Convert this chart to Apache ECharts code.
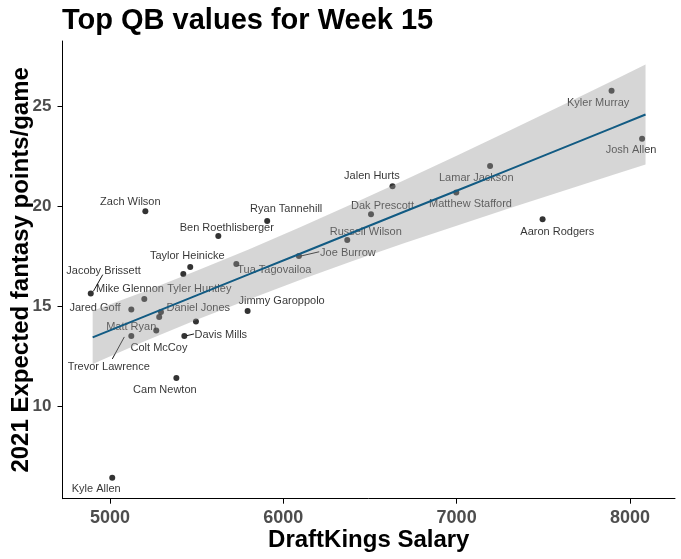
<!DOCTYPE html>
<html>
<head>
<meta charset="utf-8">
<script src="https://cdn.jsdelivr.net/npm/echarts@6/dist/echarts.min.js"></script>
<style>
  html, body { margin: 0; padding: 0; background: #fff; }
  #chart { width: 681px; height: 559px; }
</style>
</head>
<body>
<div id="chart"></div>
<script>
// ---- Data ----
const qbNames = [
  'Zach Wilson', 'Ryan Tannehill', 'Ben Roethlisberger', 'Taylor Heinicke', 'Tyler Huntley',
  'Tua Tagovailoa', 'Joe Burrow', 'Russell Wilson', 'Dak Prescott', 'Jalen Hurts',
  'Kyler Murray', 'Josh Allen', 'Lamar Jackson', 'Matthew Stafford', 'Aaron Rodgers',
  'Jacoby Brissett', 'Mike Glennon', 'Jared Goff', 'Daniel Jones', 'Matt Ryan',
  '', 'Colt McCoy', 'Trevor Lawrence', 'Davis Mills', 'Jimmy Garoppolo',
  'Cam Newton', 'Kyle Allen'
];
const salary = [
  5204, 5907, 5625, 5463, 5423,
  5729, 6090, 6369, 6506, 6630,
  7894, 8070, 7193, 6998, 7496,
  4889, 5198, 5123, 5294, 5284,
  5496, 5267, 5123, 5429, 5794,
  5383, 5013
];
const expectedPts = [
  19.76, 19.26, 18.51, 16.96, 16.61,
  17.11, 17.51, 18.31, 19.61, 21.01,
  25.79, 23.38, 22.02, 20.69, 19.35,
  15.63, 15.36, 14.83, 14.71, 14.46,
  14.23, 13.78, 13.51, 13.51, 14.76,
  11.41, 6.41
];
// Fitted trend line and its confidence band, read at several salaries
const fitX    = [4900, 5200, 5500, 5800, 6100, 6400, 6700, 7000, 7300, 7600, 7900, 8090];
const fitY    = [13.44, 14.49, 15.54, 16.59, 17.64, 18.69, 19.74, 20.78, 21.83, 22.88, 23.93, 24.60];
const fitLow  = [12.11, 13.24, 14.32, 15.34, 16.32, 17.26, 18.16, 19.03, 19.89, 20.73, 21.57, 22.10];
const fitHigh = [14.77, 15.74, 16.77, 17.84, 18.96, 20.13, 21.32, 22.53, 23.77, 25.03, 26.29, 27.10];
const xTicks = [5000, 6000, 7000, 8000];
const yTicks = [10, 15, 20, 25];

// ---- Label placement (pixel offsets from each point) ----
const labelOffsets = [
  [-15, -9], [19, -12], [8.5, -8], [-3, -10.6], [16, 15],
  [38, 6.4], [49, -3], [18.5, -8], [11.5, -8.3], [-20.6, -10.3],
  [-13.4, 12], [-11, 11], [-13.8, 11.7], [14.2, 11.7], [14.7, 13.1],
  [12.8, -22.3], [-14.3, -10], [-36.3, -1.7], [37.3, -4], [-28, 10],
  [0, 0], [2.7, 17.3], [-22.6, 30.7], [36.5, -1.3], [34, -10],
  [-11.5, 11.7], [-16, 11.7]
];
// leader segments: [index, x1, y1, x2, y2] offsets in px from point
const leaderSegs = [
  [15, 2.6, -2.3, 12, -19],
  [6, 1.7, 0, 20.3, -4.3],
  [23, 2.4, -0.3, 9.7, -2],
  [22, -7, 1, -19, 23]
];

const FONT = '"Liberation Sans", Arial, Helvetica, sans-serif';
const chart = echarts.init(document.getElementById('chart'), null, { renderer: 'canvas' });

const scatterData = qbNames.map((n, i) => ({ name: n, value: [salary[i], expectedPts[i]] }));
const bandData = fitX.map((x, i) => [x, fitLow[i], fitHigh[i]]);
const lineData = fitX.map((x, i) => [x, fitY[i]]);
const leaderData = leaderSegs.map(s => [salary[s[0]], expectedPts[s[0]], s[1], s[2], s[3], s[4]]);

const option = {
  animation: false,
  backgroundColor: '#fff',
  textStyle: { fontFamily: FONT },
  title: {
    text: 'Top QB values for Week 15',
    left: 62,
    top: 6,
    padding: 0,
    textStyle: { fontFamily: FONT, fontSize: 29, fontWeight: 'bold', color: '#000' }
  },
  grid: { left: 62.5, right: 6, top: 41, bottom: 60.3, containLabel: false, outerBoundsMode: 'none' },
  xAxis: {
    type: 'value',
    min: 4726,
    max: 8260,
    name: 'DraftKings Salary',
    nameLocation: 'middle',
    nameGap: 30,
    nameMoveOverlap: false,
    nameTextStyle: { fontFamily: FONT, fontSize: 24, fontWeight: 'bold', color: '#000' },
    axisLine: { show: true, lineStyle: { color: '#000', width: 1 } },
    axisTick: { show: true, length: 5, lineStyle: { color: '#000', width: 1 }, customValues: xTicks },
    axisLabel: { fontFamily: FONT, fontSize: 18, fontWeight: 'bold', color: '#4D4D4D', margin: 10,
                 customValues: xTicks, formatter: v => String(v) },
    splitLine: { show: false }
  },
  yAxis: {
    type: 'value',
    min: 5.36,
    max: 28.28,
    name: '2021 Expected fantasy points/game',
    nameLocation: 'middle',
    nameGap: 29,
    nameMoveOverlap: false,
    nameTextStyle: { fontFamily: FONT, fontSize: 24, fontWeight: 'bold', color: '#000' },
    axisLine: { show: true, lineStyle: { color: '#000', width: 1 } },
    axisTick: { show: true, length: 5, lineStyle: { color: '#000', width: 1 }, customValues: yTicks },
    axisLabel: { fontFamily: FONT, fontSize: 17, fontWeight: 'bold', color: '#4D4D4D', margin: 11,
                 customValues: yTicks, formatter: v => String(v) },
    splitLine: { show: false }
  },
  series: [
    {
      type: 'scatter',
      z: 2,
      data: scatterData,
      symbol: 'circle',
      symbolSize: 6,
      itemStyle: { color: '#000' },
      label: {
        show: true,
        position: 'inside',
        formatter: p => p.name,
        fontFamily: FONT,
        fontSize: 11,
        color: '#000'
      },
      labelLayout: function (params) {
        const o = labelOffsets[params.dataIndex];
        return { dx: o[0], dy: o[1] };
      }
    },
    {
      type: 'custom',
      z: 2,
      data: leaderData,
      encode: { x: 0, y: 1 },
      renderItem: function (params, api) {
        const c = api.coord([api.value(0), api.value(1)]);
        return {
          type: 'line',
          shape: {
            x1: c[0] + api.value(2), y1: c[1] + api.value(3),
            x2: c[0] + api.value(4), y2: c[1] + api.value(5)
          },
          style: { stroke: '#000', lineWidth: 0.9 }
        };
      }
    },
    {
      type: 'custom',
      z: 3,
      data: bandData,
      encode: { x: 0, y: [1, 2] },
      renderItem: function (params, api) {
        if (params.dataIndex !== 0) return null;
        const top = fitX.map((x, i) => api.coord([x, fitHigh[i]]));
        const bot = fitX.map((x, i) => api.coord([x, fitLow[i]])).reverse();
        return {
          type: 'polygon',
          shape: { points: top.concat(bot) },
          style: { fill: 'rgba(153,153,153,0.4)' }
        };
      }
    },
    {
      type: 'line',
      z: 4,
      data: lineData,
      showSymbol: false,
      symbol: 'none',
      lineStyle: { color: '#125B83', width: 2 },
      silent: true
    }
  ]
};
chart.setOption(option);
</script>
</body>
</html>
